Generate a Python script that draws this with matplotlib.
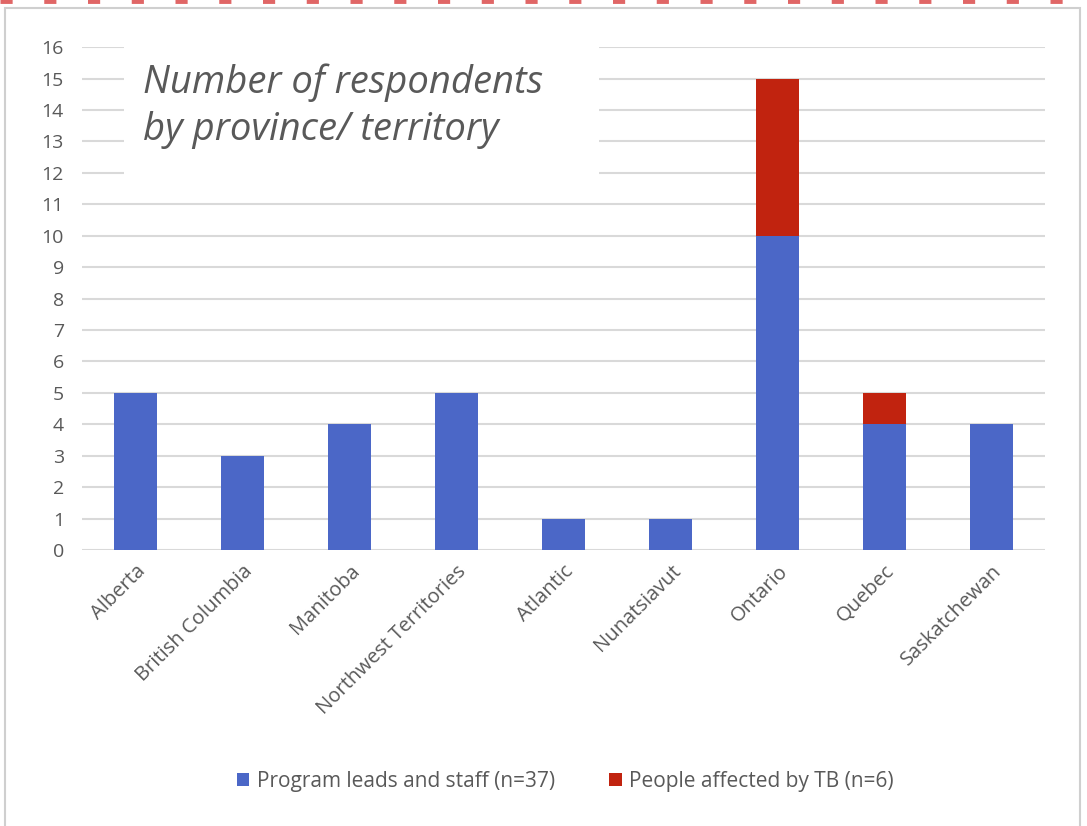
import matplotlib.pyplot as plt
from matplotlib.patches import Rectangle
from matplotlib.lines import Line2D

# data
provinces = ["Alberta", "British Columbia", "Manitoba", "Northwest Territories",
             "Atlantic", "Nunatsiavut", "Ontario", "Quebec", "Saskatchewan"]
staff = [5, 3, 4, 5, 1, 1, 10, 4, 4]
affected = [0, 0, 0, 0, 0, 0, 5, 1, 0]
yticks = list(range(0, 17))

blue = "#4B67C7"
red = "#C1230F"
grey_text = "#595959"

plt.rcParams["font.family"] = ["Open Sans", "DejaVu Sans"]

fig = plt.figure(figsize=(10.87, 8.26), dpi=100)
ax = fig.add_axes([0.0754, 0.334, 0.886, 0.609])

x = list(range(len(provinces)))
ax.bar(x, staff, width=0.41, color=blue, zorder=3,
       label="Program leads and staff (n=37)")
ax.bar(x, affected, width=0.41, bottom=staff, color=red, zorder=3,
       label="People affected by TB (n=6)")

ax.set_xlim(-0.5, len(provinces) - 0.5)
ax.set_ylim(0, 16)
ax.set_yticks(yticks)
ax.set_yticklabels([str(v) for v in yticks], fontsize=14, color=grey_text)
ax.set_xticks(x)
ax.set_xticklabels(provinces, rotation=45, ha="right", rotation_mode="anchor",
                   fontsize=14.5, color=grey_text)
ax.tick_params(axis="y", length=0, pad=13)
ax.tick_params(axis="x", length=0, pad=8)
ax.grid(axis="y", color="#d9d9d9", linewidth=1.5, zorder=0)
for s in ax.spines.values():
    s.set_visible(False)

# title box over the gridlines
ax.add_patch(Rectangle((0.0436, 0.74), 0.493, 0.28, transform=ax.transAxes,
                       facecolor="white", edgecolor="none", zorder=2,
                       clip_on=False))
ax.text(0.063, 0.968, "Number of respondents\nby province/ territory",
        transform=ax.transAxes, ha="left", va="top", fontsize=27.5,
        style="italic", color=grey_text, linespacing=1.32, zorder=4)

fig.legend(loc="center", bbox_to_anchor=(0.52, 0.054), ncol=2, frameon=False,
           fontsize=15, handlelength=0.6, handleheight=0.6,
           handletextpad=0.35, columnspacing=2.6, labelcolor=grey_text)

# frame around the chart and dashed red line on top
fig.patches.append(Rectangle((5 / 1087, -0.01), 1075 / 1087, 1 - 8 / 826 + 0.01,
                             transform=fig.transFigure, facecolor="none",
                             edgecolor="#cfcfcf", linewidth=1.5))
fig.lines.append(Line2D([0, 1], [0.9985, 0.9985], transform=fig.transFigure,
                        color="#e06666", linewidth=3.5, linestyle=(0, (2.5, 6.5))))

fig.savefig("out.png", dpi=100)
